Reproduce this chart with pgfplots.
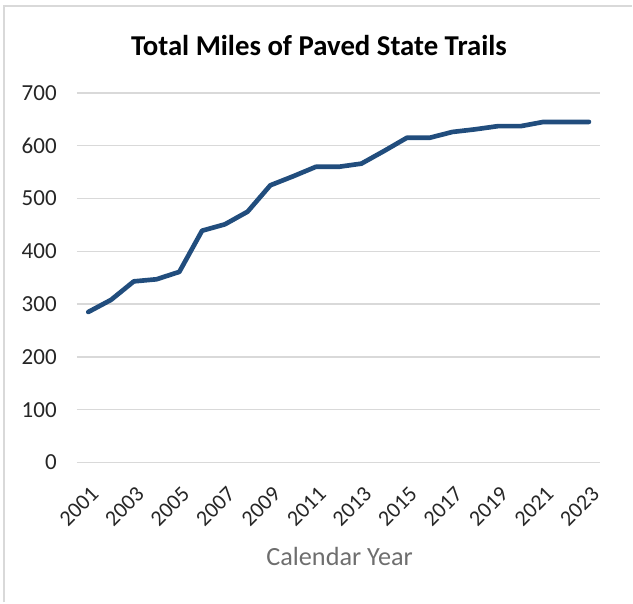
\documentclass[border=0pt]{standalone}
\usepackage{fontspec}
\setmainfont{Carlito}
\usepackage{pgfplots}
\pgfplotsset{compat=1.18}
\definecolor{linec}{RGB}{33,77,125}
\definecolor{gridc}{RGB}{217,217,217}
\definecolor{tickc}{RGB}{38,38,38}
\definecolor{labc}{RGB}{110,110,110}
\begin{document}
\begin{tikzpicture}
\path (0,0) rectangle (474.75pt,452.25pt);
\draw[gridc, line width=1.1pt] (3pt,0pt) -- (3pt,447.75pt) -- (474.75pt,447.75pt);
\node[font=\fontsize{21.6}{25}\selectfont\bfseries, text=black, inner sep=0pt] at (239.5pt,417.75pt) {Total Miles of Paved State Trails};
\node[font=\fontsize{19.7}{23}\selectfont, text=labc, inner sep=0pt] at (255pt,34.5pt) {Calendar Year};
\begin{axis}[
  at={(57.75pt,105pt)}, anchor=south west,
  scale only axis, width=393pt, height=277.5pt,
  xmin=2000.5, xmax=2023.5, ymin=0, ymax=700,
  xtick={2001,2003,...,2023},
  ytick={0,100,...,700},
  ymajorgrids, grid style={gridc, line width=1.1pt},
  axis line style={draw=none},
  major tick length=0pt,
  /pgf/number format/1000 sep={},
  /pgf/number format/assume math mode=true,
  yticklabel style={font=\fontsize{17.25}{20}\selectfont, text=tickc, anchor=east, inner sep=0pt, xshift=-15pt},
  xticklabel style={font=\fontsize{16.6}{19}\selectfont, text=tickc, xshift=1pt, yshift=-17pt, rotate=45, anchor=north east, inner sep=0pt},
  clip=false,
]
\addplot[linec, line width=3.5pt, line join=round, line cap=round] coordinates {
(2001,285) (2002,308) (2003,343) (2004,347) (2005,361) (2006,439) (2007,451) (2008,475)
(2009,525) (2010,542) (2011,560) (2012,560) (2013,566) (2014,590) (2015,615) (2016,615)
(2017,626) (2018,631) (2019,637) (2020,637) (2021,645) (2022,645) (2023,645)
};
\end{axis}
\end{tikzpicture}
\end{document}
